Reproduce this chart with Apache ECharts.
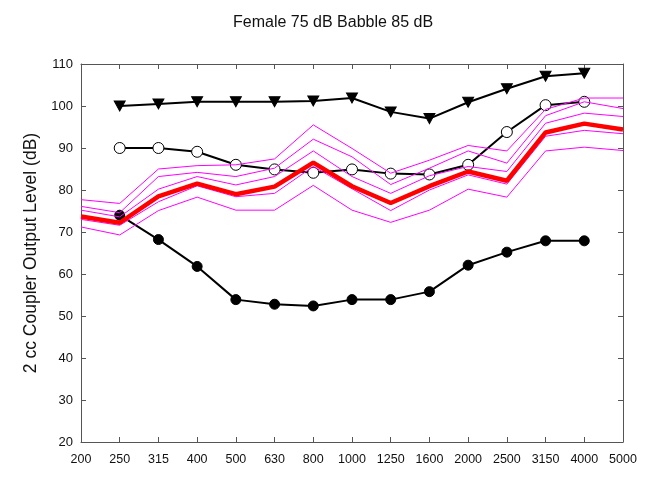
<!DOCTYPE html>
<html>
	<head>
		<meta charset="UTF-8">
		<script type="text/javascript" src="https://cdn.jsdelivr.net/npm/echarts@6/dist/echarts.min.js"></script>
		<title></title>
		<style>
			body { margin: 0; background: #fff; }
		</style>
	</head>
	<body>
		<div id="graph" style="width: 653px; height: 499px;"></div>
	</body>
	<script>
		var freqs = ['200', '250', '315', '400', '500', '630', '800', '1000', '1250', '1600', '2000', '2500', '3150', '4000', '5000'];

		// percentile band lines (magenta) and the average (red)
		var band1 = [77.7, 76.8, 85.0, 85.8, 86.0, 87.4, 95.5, 89.9, 84.0, 87.1, 90.6, 89.3, 99.2, 101.9, 101.9];
		var band2 = [76.1, 74.6, 83.2, 84.2, 83.2, 85.2, 92.1, 87.9, 81.3, 85.2, 89.3, 86.4, 97.7, 101.0, 99.4];
		var band3 = [75.2, 73.6, 80.2, 83.2, 81.2, 83.2, 89.3, 83.2, 79.2, 83.4, 85.6, 84.4, 95.9, 98.3, 97.5];
		var band4 = [73.0, 71.6, 77.2, 81.0, 78.4, 79.2, 85.6, 80.3, 75.1, 80.0, 83.6, 81.4, 92.8, 94.2, 93.4];
		var band5 = [71.2, 69.3, 75.1, 78.3, 75.2, 75.2, 81.1, 75.2, 72.3, 75.2, 80.2, 78.3, 89.3, 90.2, 89.4];
		var average = [73.7, 72.2, 78.5, 81.5, 79.0, 80.8, 86.5, 80.9, 76.9, 80.9, 84.4, 82.2, 93.7, 95.8, 94.4];

		// black curves, 250 - 4000 Hz
		var triangles = ['-', 100, 100.5, 101, 101, 101, 101.2, 101.9, 98.6, 97.0, 100.9, 104.1, 107.1, 107.8, '-'];
		var openDots = ['-', 90, 90, 89.1, 86.0, 84.9, 84.1, 84.9, 83.9, 83.7, 86.0, 93.8, 100.2, 101.0, '-'];
		var filledDots = ['-', 74.0, 68.2, 61.8, 53.9, 52.8, 52.4, 53.9, 53.9, 55.8, 62.1, 65.2, 67.9, 67.9, '-'];

		var yTicks = [20, 30, 40, 50, 60, 70, 80, 90, 100, 110];

		var font = 'Liberation Sans, Arial, sans-serif';
		var frame = '#555';

		function band(d) {
			return {
				type: 'line', data: d, symbol: 'none', z: 3,
				lineStyle: { color: '#ff00ff', width: 1 }
			};
		}

		var myChart = echarts.init(document.getElementById('graph'));
		var option = {
			animation: false,
			backgroundColor: '#fff',
			title: {
				text: 'Female 75 dB Babble 85 dB',
				left: 228,
				top: 10,
				textStyle: { fontFamily: font, fontSize: 16, fontWeight: 'normal', color: '#111' }
			},
			grid: { left: 81, right: 30, top: 64, bottom: 57 },
			xAxis: [{
				type: 'category', data: freqs, boundaryGap: false, position: 'bottom',
				axisLine: { lineStyle: { color: frame } },
				axisTick: { inside: true, length: 5, lineStyle: { color: frame } },
				axisLabel: { fontFamily: font, fontSize: 12.5, color: '#111', margin: 11 },
				splitLine: { show: false }
			}, {
				type: 'category', data: freqs, boundaryGap: false, position: 'top',
				axisLine: { lineStyle: { color: frame } },
				axisTick: { inside: true, length: 5, lineStyle: { color: frame } },
				axisLabel: { show: false },
				splitLine: { show: false }
			}],
			yAxis: [{
				type: 'value', min: yTicks[0], max: yTicks[yTicks.length - 1], interval: 10,
				position: 'left',
				name: '2 cc Coupler Output Level (dB)',
				nameLocation: 'middle', nameGap: 40,
				nameTextStyle: { fontFamily: font, fontSize: 17.5, color: '#111' },
				axisLine: { show: true, lineStyle: { color: frame } },
				axisTick: { show: true, inside: true, length: 5, lineStyle: { color: frame } },
				axisLabel: { fontFamily: font, fontSize: 13, color: '#111', margin: 8 },
				splitLine: { show: false }
			}, {
				type: 'value', min: yTicks[0], max: yTicks[yTicks.length - 1], interval: 10,
				position: 'right',
				axisLine: { show: true, lineStyle: { color: frame } },
				axisTick: { show: true, inside: true, length: 5, lineStyle: { color: frame } },
				axisLabel: { show: false },
				splitLine: { show: false }
			}],
			series: [
				{
					type: 'line', data: filledDots, symbol: 'circle', symbolSize: 10, z: 2,
					lineStyle: { color: '#000', width: 2 },
					itemStyle: { color: '#000', borderColor: '#000' }
				},
				{
					type: 'line', data: openDots, symbol: 'circle', symbolSize: 11, z: 2,
					lineStyle: { color: '#000', width: 2 },
					itemStyle: { color: '#fff', borderColor: '#000', borderWidth: 1 }
				},
				{
					type: 'line', data: triangles, symbol: 'triangle', symbolRotate: 180, symbolSize: [11, 10], z: 2,
					lineStyle: { color: '#000', width: 2 },
					itemStyle: { color: '#000', borderColor: '#000' }
				},
				band(band1), band(band2), band(band3), band(band4), band(band5),
				{
					type: 'line', data: average, symbol: 'none', z: 4,
					lineStyle: { color: '#ff0000', width: 4.5 }
				}
			]
		};
		myChart.setOption(option);
	</script>
</html>
